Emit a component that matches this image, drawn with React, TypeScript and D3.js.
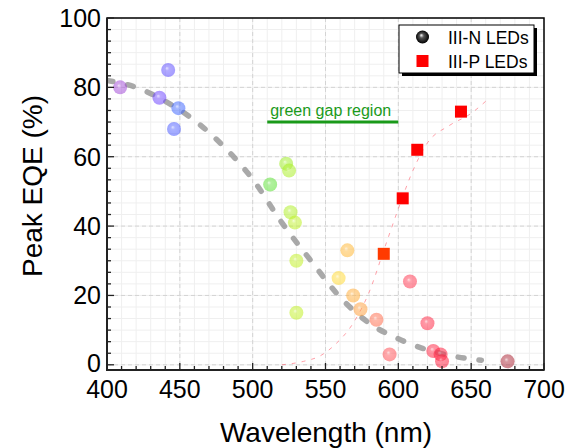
import React from "react";
import * as d3 from "d3";

// III-N LEDs (circles)
const nWavelength = [409, 436, 442, 446, 449, 512, 523, 525, 526, 529, 530, 530, 559, 565, 569, 574, 585, 594, 608, 620, 624, 629, 630, 675];
const nEQE = [80, 77, 85, 68, 74, 52, 58, 56, 44, 41, 30, 15, 25, 33, 20, 16, 13, 3, 24, 12, 4, 3, 1, 1];

// III-P LEDs (squares)
const pWavelength = [590, 603, 613, 643];
const pEQE = [32, 48, 62, 73];

// grey dashed trend (III-N)
const trendNWavelength = [400, 420, 440, 460, 480, 500, 520, 540, 560, 580, 600, 620, 640, 657];
const trendNEQE = [82, 80, 76, 70.5, 63, 53.5, 41, 30, 19.5, 12, 7.5, 4.3, 2.3, 1.3];

// pink dotted trend (III-P)
const trendPWavelength = [520, 535, 546, 557, 569, 580, 590, 600, 610, 620, 635, 650, 660];
const trendPEQE = [0, 1, 2.5, 6, 12, 21, 33, 45, 56, 64, 69, 72.5, 76];

const xTicks = [400, 450, 500, 550, 600, 650, 700];
const yTicks = [0, 20, 40, 60, 80, 100];

const greenGap = [510, 600];
const greenGapEQE = 70;

const W = 566;
const H = 448;
const FONT = "'Liberation Sans', Arial, Helvetica, sans-serif";

const x = d3.scaleLinear().domain([400, 700]).range([107, 544]);
const y = d3.scaleLinear().domain([-1.5, 100]).range([370, 18]);

// spectral colour (style) per wavelength
const specColor = d3
  .scaleLinear<string>()
  .domain([405, 436, 442, 450, 512, 525, 530, 559, 565, 575, 590, 605, 630, 675])
  .range([
    "#a848d0",
    "#6a40ff",
    "#5a4aff",
    "#3868ff",
    "#58e030",
    "#a8ee20",
    "#c0f020",
    "#ffd830",
    "#ffb530",
    "#ff9a3a",
    "#ff5050",
    "#ff3850",
    "#ff1838",
    "#a82030",
  ])
  .interpolate(d3.interpolateRgb)
  .clamp(true);

const squareColor = (w: number) => (w < 595 ? "#ff3a00" : "#ff0000");

export default function App() {
  const xMinor = d3.range(400, 701, 10);
  const yMinor = d3.range(0, 100.01, 20 / 6);

  const lineGen = d3
    .line<[number, number]>()
    .x((d) => x(d[0]))
    .y((d) => y(d[1]))
    .curve(d3.curveMonotoneX);

  const trendN = trendNWavelength.map((w, i) => [w, trendNEQE[i]] as [number, number]);
  const trendP = trendPWavelength.map((w, i) => [w, trendPEQE[i]] as [number, number]);

  const x0 = x(400);
  const x1 = x(700);
  const y0 = y(-1.5);
  const y1 = y(100);

  return (
    <svg width={W} height={H} style={{ display: "block", position: "absolute", left: 0, top: 0 }} fontFamily={FONT}>
      <defs>
        {nWavelength.map((w, i) => (
          <radialGradient key={i} id={`g${i}`} cx="0.5" cy="0.5" r="0.5" fx="0.4" fy="0.36">
            <stop offset="0" stopColor={d3.interpolateRgb(specColor(w), "#ffffff")(0.7)} />
            <stop offset="0.3" stopColor={d3.interpolateRgb(specColor(w), "#ffffff")(0.15)} />
            <stop offset="1" stopColor={specColor(w)} />
          </radialGradient>
        ))}
        <radialGradient id="legendBall" cx="0.5" cy="0.5" r="0.5" fx="0.4" fy="0.35">
          <stop offset="0" stopColor="#ffffff" />
          <stop offset="0.35" stopColor="#555555" />
          <stop offset="1" stopColor="#000000" />
        </radialGradient>
        <clipPath id="plotClip">
          <rect x={x0} y={y1} width={x1 - x0} height={y0 - y1} />
        </clipPath>
      </defs>
      <rect x={0} y={0} width={W} height={H} fill="#ffffff" />

      {/* minor grid */}
      <g stroke="#efefef" strokeWidth={1}>
        {xMinor.map((v) => (
          <line key={"xm" + v} x1={x(v)} x2={x(v)} y1={y1} y2={y0} />
        ))}
        {yMinor.map((v, i) => (
          <line key={"ym" + i} x1={x0} x2={x1} y1={y(v)} y2={y(v)} />
        ))}
      </g>
      {/* major grid */}
      <g stroke="#d4d4d4" strokeWidth={1} strokeDasharray="4,3">
        {xTicks.slice(1, -1).map((v) => (
          <line key={"xg" + v} x1={x(v)} x2={x(v)} y1={y1} y2={y0} />
        ))}
        {yTicks.slice(0, -1).map((v) => (
          <line key={"yg" + v} x1={x0} x2={x1} y1={y(v)} y2={y(v)} />
        ))}
      </g>

      <g clipPath="url(#plotClip)">
        {/* pink dotted III-P trend */}
        <path
          d={lineGen(trendP) || ""}
          fill="none"
          stroke="#ff6070"
          strokeOpacity={0.6}
          strokeWidth={1}
          strokeDasharray="4,6"
        />
        {/* grey dashed III-N trend */}
        <path
          d={lineGen(trendN) || ""}
          fill="none"
          stroke="#9a9a9a"
          strokeOpacity={0.85}
          strokeWidth={5.5}
          strokeLinecap="round"
          strokeDasharray="6,15"
        />
      </g>

      {/* green gap region */}
      <line
        x1={x(greenGap[0])}
        x2={x(greenGap[1])}
        y1={y(greenGapEQE)}
        y2={y(greenGapEQE)}
        stroke="#1a9a1a"
        strokeWidth={3}
      />
      <text x={x(greenGap[0]) + 3} y={y(greenGapEQE) - 6.5} fontSize={16} fill="#1a9a1a">
        green gap region
      </text>

      {/* III-N circles */}
      <g>
        {nWavelength.map((w, i) => (
          <circle key={i} cx={x(w)} cy={y(nEQE[i])} r={7} fill={`url(#g${i})`} opacity={0.55} />
        ))}
      </g>

      {/* III-P squares */}
      <g>
        {pWavelength.map((w, i) => (
          <rect key={i} x={x(w) - 6} y={y(pEQE[i]) - 6} width={12} height={12} fill={squareColor(w)} />
        ))}
      </g>

      {/* frame */}
      <rect x={x0} y={y1} width={x1 - x0} height={y0 - y1} fill="none" stroke="#000" strokeWidth={1.5} />
      <line x1={x0} x2={x0} y1={y1} y2={y0 + 1} stroke="#222" strokeWidth={2} />
      <line x1={x0 - 1} x2={x1} y1={y0} y2={y0} stroke="#222" strokeWidth={2} />

      {/* ticks */}
      <g stroke="#222" strokeWidth={1.3}>
        {xMinor.map((v) => {
          const major = v % 50 === 0;
          return <line key={"xt" + v} x1={x(v)} x2={x(v)} y1={y0} y2={y0 - (major ? 7 : 4)} />;
        })}
        {yMinor.map((v, i) => {
          const major = i % 6 === 0;
          return <line key={"yt" + i} x1={x0} x2={x0 + (major ? 7 : 4)} y1={y(v)} y2={y(v)} />;
        })}
      </g>

      {/* tick labels */}
      <g fontSize={25} fill="#000">
        {xTicks.map((v) => (
          <text key={"xl" + v} x={x(v)} y={398} textAnchor="middle">
            {v}
          </text>
        ))}
        {yTicks.map((v) => (
          <text key={"yl" + v} x={x0 - 6} y={y(v) - (v === 0 ? 2 : 0)} dy="0.36em" textAnchor="end">
            {v}
          </text>
        ))}
      </g>

      {/* axis titles */}
      <text x={326} y={442} fontSize={28} textAnchor="middle" fill="#000">
        Wavelength (nm)
      </text>
      <text transform="translate(42,186) rotate(-90)" fontSize={28} textAnchor="middle" fill="#000">
        Peak EQE (%)
      </text>

      {/* legend */}
      <g>
        <rect x={402} y={28} width={135} height={48} fill="#000" />
        <rect x={399} y={25} width={135} height={48} fill="#fff" stroke="#000" strokeWidth={1} />
        <circle cx={422.5} cy={37} r={6.5} fill="url(#legendBall)" />
        <rect x={416.5} y={55} width={12} height={12} fill="#ff0000" />
        <text x={448} y={43.5} fontSize={17.5} fill="#000">
          III-N LEDs
        </text>
        <text x={448} y={67.5} fontSize={17.5} fill="#000">
          III-P LEDs
        </text>
      </g>
    </svg>
  );
}
